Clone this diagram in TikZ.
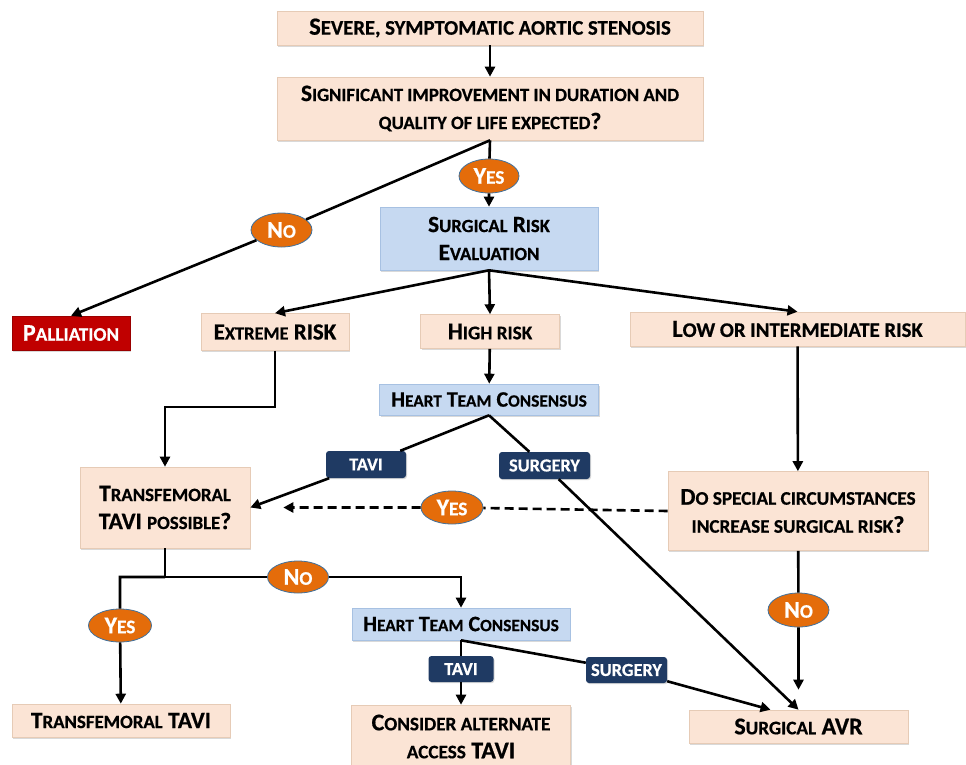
\documentclass[tikz,border=0pt]{standalone}
\usepackage{fontspec}
\usepackage{relsize}
\setmainfont{Carlito}[BoldFeatures={FakeBold=0.6}]
\usetikzlibrary{arrows.meta,shapes.geometric,shadows}

\definecolor{peachfill}{HTML}{FBE4D5}
\definecolor{peachedge}{HTML}{E6CBB6}
\definecolor{bluefill}{HTML}{C6D9F1}
\definecolor{blueedge}{HTML}{A7C1E2}
\definecolor{navyfill}{HTML}{1F3A63}
\definecolor{orangefill}{HTML}{E46C0A}
\definecolor{ovaledge}{HTML}{41719C}
\definecolor{redfill}{HTML}{C00000}

% fake small capitals
\newcommand{\lc}[1]{\textscale{0.8}{#1}}

\begin{document}
\begin{tikzpicture} [
				x=1pt, y=-1pt,
				>={Triangle[length=10pt,width=10pt]},
				every node/.style={align=center, inner sep=0pt},
				fs/.style={font=\fontsize{#1}{28}\selectfont\bfseries},
				dims/.style 2 args={minimum width=#1pt, minimum height=#2pt},
				stage/.style={rectangle, fill=peachfill, draw=peachedge, line width=0.6pt, fs=24,
					drop shadow={shadow xshift=1.2pt, shadow yshift=-1.5pt, opacity=0.3}},
				review/.style={stage, fill=bluefill, draw=blueedge},
				outcome/.style={stage, fill=redfill, draw=redfill!80!black, text=white},
				pick/.style={rectangle, rounded corners=3pt, fill=navyfill, text=white, fs=18.3,
					drop shadow={shadow xshift=1pt, shadow yshift=-1.2pt, opacity=0.3}},
				answer/.style={ellipse, fill=orangefill, draw=ovaledge, line width=0.8pt, text=white, fs=24, dims={61}{34}},
				flow/.style={draw, line width=2.6pt, ->}
			]
			\useasboundingbox (0,0) rectangle (966,764);

			% boxes
			\node[stage, dims={426}{34}, fs=24.6] (severe) at (490,28) {S\lc{EVERE, SYMPTOMATIC AORTIC STENOSIS}};
			\node[stage, dims={426}{63}, fs=23.5] (improve) at (490,108.5) {S\lc{IGNIFICANT IMPROVEMENT IN DURATION AND}\\\lc{QUALITY OF LIFE EXPECTED}?};
			\node[review, dims={218}{63}, fs=23.3] (sre) at (489,238.5) {S\lc{URGICAL} R\lc{ISK}\\E\lc{VALUATION}};
			\node[outcome, dims={118}{34}] (palliation) at (71,333) {P\lc{ALLIATION}};
			\node[stage, dims={148}{37}, fs=23] (extreme) at (275,332) {E\lc{XTREME} RISK};
			\node[stage, dims={139}{34}] (high) at (490,331.5) {H\lc{IGH RISK}};
			\node[stage, dims={335}{34}, fs=24.6] (lowint) at (797.5,329) {L\lc{OW OR INTERMEDIATE RISK}};
			\node[review, dims={219}{31}, fs=22] (htcA) at (489,399.5) {H\lc{EART} T\lc{EAM} C\lc{ONSENSUS}};
			\node[stage, dims={170}{81}, fs=23.5] (tfq) at (165,507.5) {T\lc{RANSFEMORAL}\\TAVI \lc{POSSIBLE}?};
			\node[stage, dims={260}{79}] (special) at (798,511) {D\lc{O SPECIAL CIRCUMSTANCES}\\\lc{INCREASE SURGICAL RISK}?};
			\node[review, dims={218}{32}, fs=22] (htcB) at (461,624) {H\lc{EART} T\lc{EAM} C\lc{ONSENSUS}};
			\node[stage, dims={218}{33}, fs=23.5] (tftavi) at (121,720.5) {T\lc{RANSFEMORAL} TAVI};
			\node[stage, dims={219}{63}] (altaccess) at (461,736.5) {C\lc{ONSIDER ALTERNATE}\\\lc{ACCESS} TAVI};
			\node[stage, dims={219}{33}] (avr) at (798.5,726.5) {S\lc{URGICAL} AVR};

			% treatment choices
			\node[pick, dims={80}{27}] (taviA) at (366,464.5) {TAVI};
			\node[pick, dims={91}{27}] (surgA) at (544.5,465.5) {SURGERY};
			\node[pick, dims={65}{26}] (taviB) at (461,669) {TAVI};
			\node[pick, dims={81}{26}] (surgB) at (626.5,670) {SURGERY};

			% answers
			\node[answer, dims={60}{34}] (yesA) at (489,176) {Y\lc{ES}};
			\node[answer] (noA) at (281.5,230) {N\lc{O}};
			\node[answer, dims={62}{33}] (yesB) at (452,507.5) {Y\lc{ES}};
			\node[answer, dims={61}{32}] (noB) at (298,577) {N\lc{O}};
			\node[answer, dims={63}{33}] (yesC) at (120,625.5) {Y\lc{ES}};
			\node[answer] (noC) at (798.5,610) {N\lc{O}};
			\coordinate (split) at (165,577);

			% connectors
			\draw[flow] (severe) -- (improve);
			\draw[flow] (improve.south) -- (yesA) -- (sre);
			\draw[flow] (improve.south) -- (noA) -- (palliation.north);
			\draw[flow] (sre.south) -- (extreme.north);
			\draw[flow] (sre.south) -- (high.north);
			\draw[flow] (sre.south) -- (lowint.north);
			\draw[flow] (extreme.south) -- ++(0,56) -| (tfq.north);
			\draw[flow] (high) -- (htcA);
			\draw[flow] (htcA.south) -- (taviA) -- (tfq.east);
			\draw[flow] (htcA.south) -- (surgA) -- (avr.north);
			\draw[flow] (lowint) -- (special);
			\draw[flow, dash pattern=on 9pt off 5pt] (special.west) -- (yesB) -- ([xshift=33pt]tfq.east);
			\draw[flow] (special) -- (noC) -- ([yshift=20pt]avr.north);
			\draw[line width=2.6pt] (tfq.south) -- (split);
			\draw[flow] (split) -| (yesC) -- (tftavi);
			\draw[flow] (split) -- (noB) -| (htcB.north);
			\draw[flow] (htcB.south) -- (taviB) -- (altaccess);
			\draw[flow] (htcB.south) -- (surgB) -- ([xshift=-28pt]avr.north);
		\end{tikzpicture}
\end{document}
